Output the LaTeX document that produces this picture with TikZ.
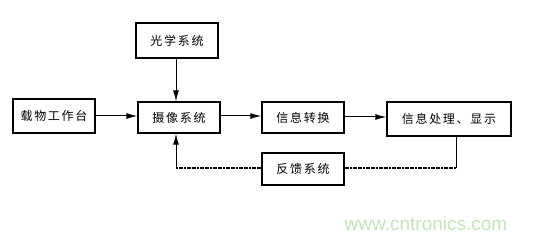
\documentclass[tikz,border=0pt]{standalone}
\usepackage{fontspec}
\newfontfamily\cjk[LetterSpace=14]{Noto Sans CJK SC}
\newfontfamily\wmfont{Liberation Sans}
\usetikzlibrary{arrows.meta}
\definecolor{wmgreen}{RGB}{196,228,184}

\begin{document}
\begin{tikzpicture}[x=1pt, y=-1pt, line width=1pt,
    every node/.style={font=\cjk\fontsize{12}{14}\selectfont},
    block/.style={draw, line width=1.3pt, minimum height=32pt, inner sep=0pt},
    arr/.style={-{Latex[length=11pt,width=6pt]}},
    fbline/.style={line width=1.4pt, dash pattern=on 2pt off 0.6pt}]
      \useasboundingbox (0,0) rectangle (547,243);

      \node[block, minimum width=82pt, minimum height=35pt] (opt)   at (177,40.5) {光学系统};
      \node[block, minimum width=82pt, minimum height=34pt] (stage) at (54,116)   {载物工作台};
      \node[block, minimum width=82pt, minimum height=31pt] (cam)   at (179,117.5) {摄像系统};
      \node[block, minimum width=82pt, minimum height=31pt] (conv)  at (303,117.5) {信息转换};
      \node[block, minimum width=124pt, minimum height=34pt] (proc)  at (449,119)   {信息处理、显示};
      \node[block, minimum width=82pt, minimum height=32pt] (fb)    at (303,169)   {反馈系统};

      \coordinate (fbR) at (456,168);
      \coordinate (fbL) at (176,168);
      \coordinate (optD) at (176,58);

      \draw[arr] (stage.east |- 0,116) -- (cam.west |- 0,116);
      \draw[arr] (optD) -- (optD |- cam.north);
      \draw[arr] (cam.east |- 0,116) -- (conv.west |- 0,116);
      \draw[arr] (conv.east |- 0,117) -- (proc.west |- 0,117);

      % feedback loop
      \draw (proc.south -| fbR) -- (fbR);
      \draw[fbline] (fbR) -- (fb.east |- fbR);
      \draw[fbline] (fb.west |- fbL) -- (fbL);
      \draw[arr] (fbL) -- (fbL |- cam.south);

      \node[font=\wmfont\fontsize{19}{21}\selectfont, text=wmgreen] (wm) at (426,224) {www.cntronics.com};
\end{tikzpicture}
\end{document}
